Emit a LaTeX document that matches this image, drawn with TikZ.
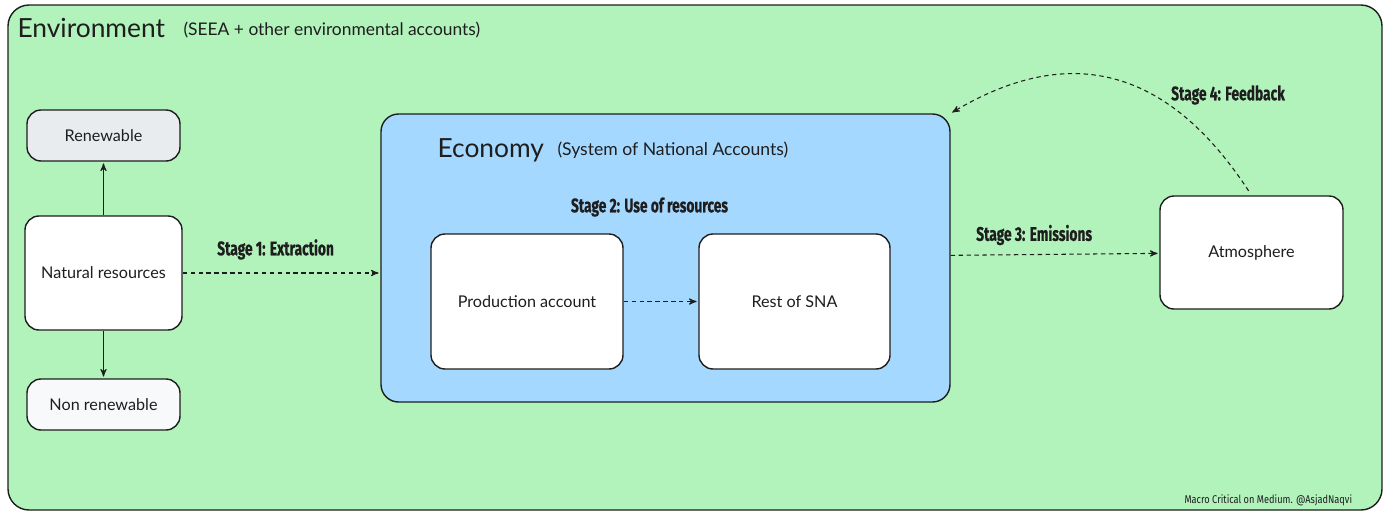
\documentclass[tikz,border=0pt]{standalone}
\usepackage{fontspec}
\setmainfont{Lato}
\newfontfamily\stagefont[FakeStretch=0.7,BoldFeatures={FakeBold=0.6}]{Fira Sans}
\newfontfamily\notefont[FakeStretch=0.82]{Fira Sans}
\usetikzlibrary{arrows}

\definecolor{ink}{HTML}{1E1E1E}
\definecolor{envgreen}{HTML}{B2F2BB}
\definecolor{ecoblue}{HTML}{A5D8FF}
\definecolor{rengrey}{HTML}{E9ECEF}
\definecolor{nrengrey}{HTML}{F8F9FA}

\begin{document}
\begin{tikzpicture}[->,>=stealth',shorten >=1pt,auto,node distance=2.7cm,
  line width=0.6pt,draw=ink,
  main node/.style={rectangle,rounded corners=8pt,draw=ink,fill=white,text=ink,
    line width=0.8pt,font=\fontsize{9.2}{11}\selectfont},
  stage/.style={text=ink,font=\stagefont\bfseries\fontsize{11.2}{13}\selectfont},
  title/.style={anchor=west,text=ink,inner sep=0pt}]

  \useasboundingbox (0,0) rectangle (28,-10.56);
  \draw[-,fill=envgreen,draw=ink,line width=0.8pt,rounded corners=12pt]
    (0.16,-0.10) rectangle (27.64,-10.20);
  \node[title,font=\fontsize{15}{17}\selectfont] (ENVT) at (0.34,-0.56) {Environment};
  \node[title,font=\fontsize{9.9}{11}\selectfont] (ENVS) at (3.66,-0.60) {(SEEA + other environmental accounts)};

  \node[main node,minimum width=3.14cm,minimum height=2.28cm] (NR) at (2.07,-5.46) {Natural resources};
  \node[main node,fill=rengrey,minimum width=3.06cm,minimum height=1.02cm] (REN) [node distance=2.75cm, above of=NR] {Renewable};
  \node[main node,fill=nrengrey,minimum width=3.06cm,minimum height=1.02cm] (NREN) [node distance=2.63cm, below of=NR] {Non renewable};

  \node[main node,fill=ecoblue,rounded corners=10pt,minimum width=11.38cm,minimum height=5.76cm] (ECO) at (13.31,-5.16) {};
  \node[title,font=\fontsize{15}{17}\selectfont] (ECOT) at (8.74,-3.0) {Economy};
  \node[title,font=\fontsize{10}{11}\selectfont] (ECOS) at (11.14,-3.0) {(System of National Accounts)};
  \node[stage] (USE) at (12.99,-4.14) {Stage 2: Use of resources};
  \node[main node,minimum width=3.84cm,minimum height=2.7cm] (PA) at (10.54,-6.03) {Production account};
  \node[main node,minimum width=3.82cm,minimum height=2.7cm] (RS) [node distance=5.35cm, right of=PA] {Rest of SNA};

  \node[main node,minimum width=3.66cm,minimum height=2.26cm] (ATM) at (25.03,-5.05) {Atmosphere};
  \node[stage] (FB) at (24.56,-1.9) {Stage 4: Feedback};
  \node[text=ink,font=\notefont\fontsize{6.4}{8}\selectfont,anchor=east] (NOTE) at (27.17,-10.0) {Macro Critical on Medium. @AsjadNaqvi};

  \path
    (NR) edge (REN)
    (NR) edge (NREN);

  \path[dashed,dash pattern=on 2.5pt off 2pt,every node/.style={stage}]
    (NR) edge node[above=0.14cm,pos=0.47] {Stage 1: Extraction} (NR -| ECO.west)
    (PA) edge (RS)
    (ECO) edge node[above=0.06cm,pos=0.4] {Stage 3: Emissions} (ATM);

  \draw[dashed,dash pattern=on 2.5pt off 2pt,shorten <=3pt]
    (ATM.north) .. controls (23.0,-0.8) and (20.8,-1.2) .. (ECO.north east);
\end{tikzpicture}
\end{document}
